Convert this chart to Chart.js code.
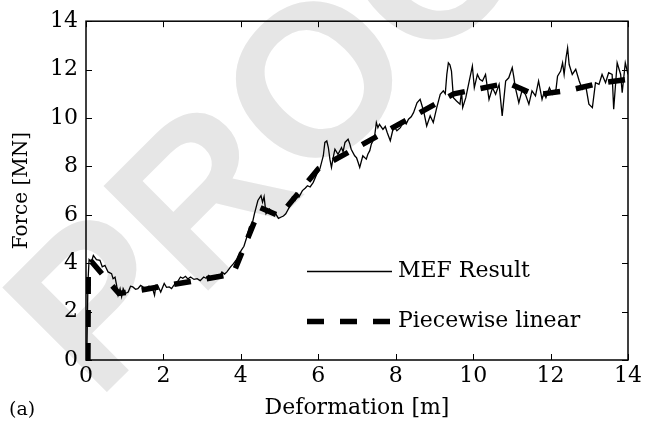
<!DOCTYPE html>
<html>
<head>
<meta charset="utf-8">
<script src="https://cdn.jsdelivr.net/npm/chart.js@4.4.0/dist/chart.umd.min.js"></script>
<style>
  html, body { margin: 0; padding: 0; background: #fff; }
  canvas { display: block; }
</style>
</head>
<body>
<canvas id="forceChart" width="645" height="430"></canvas>
<script>
// axis ticks
var xTicks = [0, 2, 4, 6, 8, 10, 12, 14];
var yTicks = [0, 2, 4, 6, 8, 10, 12, 14];

// MEF simulation: deformation [m] / force [MN]
var mefX = [0.02, 0.05, 0.08, 0.14, 0.19, 0.27, 0.36, 0.42, 0.49, 0.57, 0.66, 0.70, 0.75, 0.79, 0.83, 0.88, 0.92, 0.96, 1.02, 1.09,
  1.15, 1.21, 1.28, 1.34, 1.41, 1.47, 1.56, 1.62, 1.68, 1.73, 1.77, 1.81, 1.85, 1.93, 2.02, 2.08, 2.15, 2.21, 2.27, 2.36,
  2.44, 2.50, 2.57, 2.63, 2.70, 2.79, 2.87, 2.95, 3.04, 3.10, 3.17, 3.24, 3.30, 3.38, 3.44, 3.51, 3.58, 3.64, 3.73, 3.81,
  3.90, 4.01, 4.08, 4.14, 4.22, 4.29, 4.35, 4.44, 4.52, 4.56, 4.60, 4.65, 4.74, 4.82, 4.90, 4.97, 5.03, 5.10, 5.16, 5.25,
  5.33, 5.40, 5.46, 5.50, 5.59, 5.66, 5.72, 5.79, 5.87, 5.96, 6.04, 6.13, 6.17, 6.22, 6.26, 6.30, 6.34, 6.39, 6.43, 6.51,
  6.60, 6.64, 6.69, 6.77, 6.81, 6.85, 6.94, 6.99, 7.03, 7.07, 7.15, 7.24, 7.28, 7.33, 7.37, 7.45, 7.50, 7.54, 7.58, 7.67,
  7.73, 7.78, 7.86, 7.95, 8.03, 8.12, 8.21, 8.27, 8.33, 8.40, 8.46, 8.55, 8.63, 8.72, 8.80, 8.89, 8.97, 9.06, 9.15, 9.23,
  9.28, 9.32, 9.36, 9.40, 9.44, 9.49, 9.57, 9.66, 9.70, 9.73, 9.81, 9.90, 9.98, 10.03, 10.11, 10.17, 10.24, 10.32, 10.41, 10.50,
  10.58, 10.67, 10.75, 10.84, 10.92, 11.01, 11.05, 11.09, 11.18, 11.26, 11.35, 11.44, 11.52, 11.61, 11.69, 11.78, 11.83, 11.88, 11.97, 12.05,
  12.14, 12.18, 12.26, 12.31, 12.35, 12.40, 12.44, 12.48, 12.56, 12.65, 12.74, 12.82, 12.91, 12.99, 13.08, 13.16, 13.25, 13.33, 13.42, 13.50,
  13.59, 13.63, 13.72, 13.81, 13.85, 13.93, 14.00];
var mefY = [0, 3.2, 4.15, 4.05, 4.32, 4.15, 4.12, 3.85, 3.91, 3.64, 3.57, 3.36, 3.42, 3.09, 2.68, 2.95, 2.62, 2.95, 2.75, 2.81,
  3.05, 3.02, 2.92, 2.95, 3.08, 3.02, 2.95, 3.05, 3.02, 2.90, 2.68, 3.10, 3.09, 2.81, 3.16, 3.00, 3.02, 2.95, 3.09, 3.22,
  3.43, 3.38, 3.46, 3.35, 3.43, 3.33, 3.36, 3.28, 3.43, 3.38, 3.50, 3.40, 3.43, 3.50, 3.42, 3.64, 3.55, 3.64, 3.84, 3.98,
  4.18, 4.53, 4.70, 5.01, 5.49, 5.60, 6.04, 6.59, 6.79, 6.52, 6.75, 6.04, 6.24, 6.11, 6.04, 5.85, 5.90, 5.95, 6.04, 6.31,
  6.73, 6.60, 6.86, 6.73, 7.00, 7.10, 7.20, 7.15, 7.34, 7.68, 7.89, 8.44, 8.99, 9.05, 8.78, 8.30, 7.96, 8.40, 8.71, 8.50,
  8.78, 8.60, 8.99, 9.12, 8.95, 8.71, 8.44, 8.35, 8.16, 7.96, 8.44, 8.30, 8.50, 8.65, 8.92, 9.19, 9.81, 9.60, 9.74, 9.53,
  9.65, 9.40, 9.06, 9.67, 9.47, 9.60, 9.88, 9.75, 9.95, 10.05, 10.22, 10.63, 10.77, 10.29, 9.67, 10.09, 9.81, 10.43, 10.98, 11.12,
  11.00, 11.80, 12.28, 12.20, 11.94, 10.84, 10.70, 10.57, 11.10, 10.43, 10.84, 11.53, 12.14, 11.25, 11.80, 11.60, 11.53, 11.80, 10.77, 11.25,
  10.98, 11.39, 10.09, 11.53, 11.66, 12.08, 11.70, 11.25, 10.63, 11.12, 10.98, 10.57, 11.12, 10.91, 11.53, 10.77, 11.05, 10.84, 11.25, 10.98,
  11.18, 11.73, 11.94, 12.28, 11.80, 12.50, 12.90, 12.21, 11.80, 12.01, 11.53, 11.18, 11.32, 10.57, 10.43, 11.46, 11.39, 11.80, 11.46, 11.87,
  11.80, 10.36, 12.28, 11.80, 11.05, 12.28, 11.80];

// piecewise linear fit
var fitX = [0.05, 0.06, 0.15, 0.85, 1.10, 3.80, 4.50, 5.00, 6.00, 9.50, 10.90, 11.60, 12.50, 13.30, 14.00];
var fitY = [0, 4.00, 4.05, 2.75, 2.80, 3.55, 6.30, 5.95, 7.90, 11.00, 11.45, 10.95, 11.15, 11.45, 11.60];

var serif = '"DejaVu Serif", "Liberation Serif", serif';

function toPoints(xs, ys) {
  var pts = [];
  for (var i = 0; i < xs.length; i++) pts.push({x: xs[i], y: ys[i]});
  return pts;
}

// white page + grey diagonal stamp behind everything
var stampPlugin = {
  id: 'stamp',
  beforeDraw: function(chart) {
    var ctx = chart.ctx;
    ctx.save();
    ctx.fillStyle = '#fff';
    ctx.fillRect(0, 0, chart.width, chart.height);
    ctx.translate(325, 90);
    ctx.rotate(-Math.PI / 4);
    ctx.fillStyle = '#e6e6e6';
    ctx.font = 'bold 215px "Liberation Sans", Arial, sans-serif';
    ctx.textAlign = 'center';
    ctx.textBaseline = 'middle';
    ctx.fillText('PROOF', 0, 0);
    ctx.restore();
  }
};

// closed box with inward ticks on all four sides
var framePlugin = {
  id: 'frame',
  afterDatasetsDraw: function(chart) {
    var ctx = chart.ctx, a = chart.chartArea;
    var sx = chart.scales.x, sy = chart.scales.y;
    var len = 6;
    ctx.save();
    ctx.strokeStyle = '#000';
    ctx.lineWidth = 1.5;
    ctx.strokeRect(a.left, a.top, a.right - a.left, a.bottom - a.top);
    ctx.lineWidth = 1;
    ctx.beginPath();
    xTicks.forEach(function(v) {
      var px = Math.round(sx.getPixelForValue(v)) + 0.5;
      ctx.moveTo(px, a.bottom); ctx.lineTo(px, a.bottom - len);
      ctx.moveTo(px, a.top); ctx.lineTo(px, a.top + len);
    });
    yTicks.forEach(function(v) {
      var py = Math.round(sy.getPixelForValue(v)) + 0.5;
      ctx.moveTo(a.left, py); ctx.lineTo(a.left + len, py);
      ctx.moveTo(a.right, py); ctx.lineTo(a.right - len, py);
    });
    ctx.stroke();
    ctx.restore();
  }
};

// legend inside the plot and the panel letter
var keyPlugin = {
  id: 'key',
  afterDraw: function(chart) {
    var ctx = chart.ctx;
    var rows = [271, 321];
    ctx.save();
    ctx.font = '22px ' + serif;
    ctx.textBaseline = 'middle';
    ctx.fillStyle = '#000';
    chart.data.datasets.forEach(function(ds, i) {
      var y = Math.round(rows[i]) + 0.5;
      ctx.strokeStyle = ds.borderColor;
      ctx.lineWidth = Math.max(ds.borderWidth, 1);
      ctx.setLineDash(ds.borderDash || []);
      ctx.beginPath();
      ctx.moveTo(307, y);
      ctx.lineTo(392, y);
      ctx.stroke();
      ctx.setLineDash([]);
      ctx.fillText(ds.label, 398, rows[i]);
    });
    ctx.font = '19px ' + serif;
    ctx.fillText('(a)', 9, 410);
    ctx.restore();
  }
};

new Chart(document.getElementById('forceChart'), {
  type: 'line',
  data: {
    datasets: [
      {
        label: 'MEF Result',
        data: toPoints(mefX, mefY),
        borderColor: '#000',
        borderWidth: 1.3,
        pointRadius: 0,
        tension: 0,
        order: 1
      },
      {
        label: 'Piecewise linear',
        data: toPoints(fitX, fitY),
        borderColor: '#000',
        borderWidth: 5.5,
        borderDash: [17, 16],
        pointRadius: 0,
        tension: 0,
        order: 0
      }
    ]
  },
  options: {
    responsive: false,
    animation: false,
    devicePixelRatio: 1,
    layout: { padding: { top: 20, right: 13, left: 0, bottom: 0 } },
    plugins: { legend: { display: false }, tooltip: { enabled: false } },
    scales: {
      x: {
        type: 'linear',
        min: 0, max: 14,
        afterBuildTicks: function(s) { s.ticks = xTicks.map(function(v) { return {value: v}; }); },
        ticks: { color: '#000', padding: 3, font: { family: serif, size: 22 }, maxRotation: 0 },
        grid: { display: false, drawTicks: false },
        border: { display: false },
        title: { display: true, text: 'Deformation [m]', color: '#000', font: { family: serif, size: 22 }, padding: { top: 0, bottom: 9 } },
        afterFit: function(s) { s.height = 70; }
      },
      y: {
        type: 'linear',
        min: 0, max: 14,
        afterBuildTicks: function(s) { s.ticks = yTicks.map(function(v) { return {value: v}; }); },
        ticks: { color: '#000', padding: 8, font: { family: serif, size: 22 } },
        grid: { display: false, drawTicks: false },
        border: { display: false },
        title: { display: true, text: 'Force [MN]', color: '#000', font: { family: serif, size: 20 }, padding: { top: 10, bottom: 0 } },
        afterFit: function(s) { s.width = 86; }
      }
    }
  },
  plugins: [stampPlugin, framePlugin, keyPlugin]
});
</script>
</body>
</html>
